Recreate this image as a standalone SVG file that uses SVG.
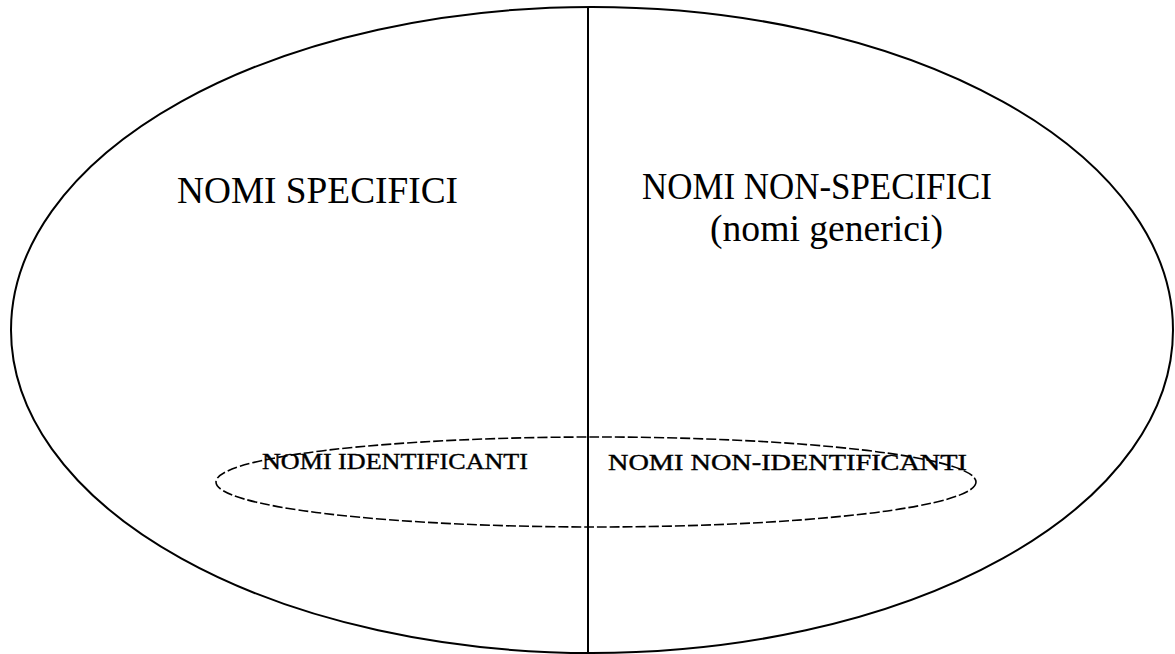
<svg xmlns="http://www.w3.org/2000/svg" width="1175" height="654" viewBox="0 0 1175 654">
<style>
.big{fill:none;stroke:#000;stroke-width:2}
.small{fill:none;stroke:#000;stroke-width:1.6;stroke-dasharray:10 3}
.t{font-family:"Liberation Serif","Times New Roman",serif;fill:#000}
.lg{font-size:37px}
.sm{font-size:23px;stroke:#000;stroke-width:0.4}
</style>
<rect width="1175" height="654" fill="#fff"/>
<g id="outer-set">
<ellipse class="big" cx="592" cy="330" rx="581" ry="323"/>
</g>
<g id="inner-set">
<ellipse class="small" cx="596" cy="482" rx="380" ry="45"/>
</g>
<g id="connectors">
<line x1="588" y1="7" x2="588" y2="654" stroke="#000" stroke-width="2"/>
</g>
<g id="nomi-specifici">
<text class="t lg" x="177" y="203" textLength="281" lengthAdjust="spacingAndGlyphs">NOMI SPECIFICI</text>
</g>
<g id="nomi-non-specifici">
<text class="t lg" x="642" y="199" textLength="350" lengthAdjust="spacingAndGlyphs">NOMI NON-SPECIFICI</text>
<text class="t lg" x="710" y="241" textLength="233" lengthAdjust="spacingAndGlyphs">(nomi generici)</text>
</g>
<g id="nomi-identificanti">
<text class="t sm" x="262" y="469" textLength="266" lengthAdjust="spacingAndGlyphs">NOMI IDENTIFICANTI</text>
</g>
<g id="nomi-non-identificanti">
<text class="t sm" x="608" y="470" textLength="359" lengthAdjust="spacingAndGlyphs">NOMI NON-IDENTIFICANTI</text>
</g>
</svg>
